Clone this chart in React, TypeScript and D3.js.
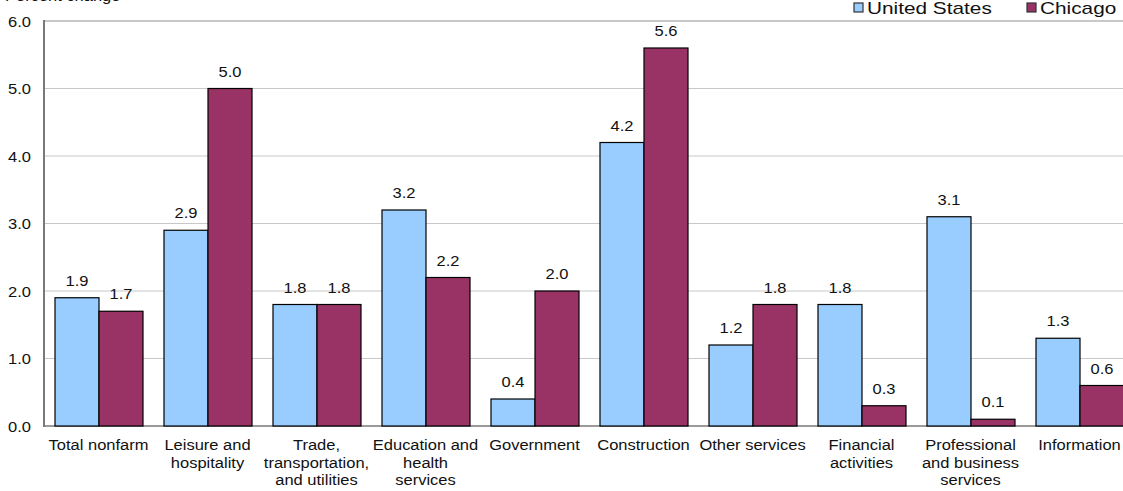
import React from "react";
import * as d3 from "d3";

const categories: string[][] = [
  ["Total nonfarm"],
  ["Leisure and", "hospitality"],
  ["Trade,", "transportation,", "and utilities"],
  ["Education and", "health", "services"],
  ["Government"],
  ["Construction"],
  ["Other services"],
  ["Financial", "activities"],
  ["Professional", "and business", "services"],
  ["Information"],
];
const usValues = [1.9, 2.9, 1.8, 3.2, 0.4, 4.2, 1.2, 1.8, 3.1, 1.3];
const chicagoValues = [1.7, 5.0, 1.8, 2.2, 2.0, 5.6, 1.8, 0.3, 0.1, 0.6];
const yTicks = [0, 1, 2, 3, 4, 5, 6];
const seriesNames = ["United States", "Chicago"];
const colors = ["#99CCFF", "#993366"];

const W = 1123;
const H = 491;
const left = 44;
const top = 21;
const bottom = 426;
const step = 109;
const FONT = "'Liberation Sans', Arial, sans-serif";
const SX = 1.1;

export default function App() {
  const y = d3.scaleLinear().domain([0, 6]).range([bottom, top]);
  const groupX = (i: number) => left + i * step;
  const x1 = d3.scaleBand<number>().domain([0, 1]).range([11, 99]);
  const series = [usValues, chicagoValues];

  const txt = (
    xx: number,
    yy: number,
    s: string,
    anchor: string,
    size = 15,
    sx = SX,
    key?: string
  ) => (
    <text
      key={key}
      transform={`translate(${xx},${yy}) scale(${sx},1)`}
      textAnchor={anchor as any}
      fontFamily={FONT}
      fontSize={size}
      fill="#111"
    >
      {s}
    </text>
  );

  return (
    <svg
      width={W}
      height={H}
      style={{ position: "absolute", left: 0, top: 0, background: "#fff" }}
    >
      <rect x={0} y={0} width={W} height={H} fill="#fff" />
      {txt(5, 1, "Percent change", "start", 15, SX, "title")}
      {yTicks.map((t) => (
        <line
          key={"g" + t}
          x1={left}
          x2={W}
          y1={y(t)}
          y2={y(t)}
          stroke={t === 0 ? "#9a9a9a" : "#c8c8c8"}
          strokeWidth={t === 6 || t === 0 ? 2 : 1}
        />
      ))}
      {yTicks.map((t) =>
        txt(31, y(t) + 5.5, d3.format(".1f")(t), "end", 15, SX, "yt" + t)
      )}
      {series.map((vals, s) =>
        vals.map((v, i) => {
          const bx = groupX(i) + (x1(s) as number);
          const bw = x1.bandwidth();
          return (
            <g key={`b${s}-${i}`}>
              <rect
                x={bx}
                y={y(v)}
                width={bw}
                height={bottom - y(v)}
                fill={colors[s]}
                stroke="#000"
                strokeWidth={1.2}
              />
              {txt(bx + bw / 2, y(v) - 12, d3.format(".1f")(v), "middle", 15, SX)}
            </g>
          );
        })
      )}
      <line x1={left} x2={left} y1={top - 1} y2={bottom + 1} stroke="#7a7a7a" strokeWidth={2} />
      {categories.map((lines, i) =>
        lines.map((ln, j) =>
          txt(groupX(i) + step / 2, 450 + j * 17.5, ln, "middle", 15, SX, `c${i}-${j}`)
        )
      )}
      {seriesNames.map((n, i) => {
        const lx = i === 0 ? 854 : 1027;
        return (
          <g key={"lg" + i}>
            <rect x={lx} y={3} width={9} height={9} fill={colors[i]} stroke="#333" strokeWidth={1.2} />
            {txt(lx + 13, 14, n, "start", 16, 1.3)}
          </g>
        );
      })}
    </svg>
  );
}
